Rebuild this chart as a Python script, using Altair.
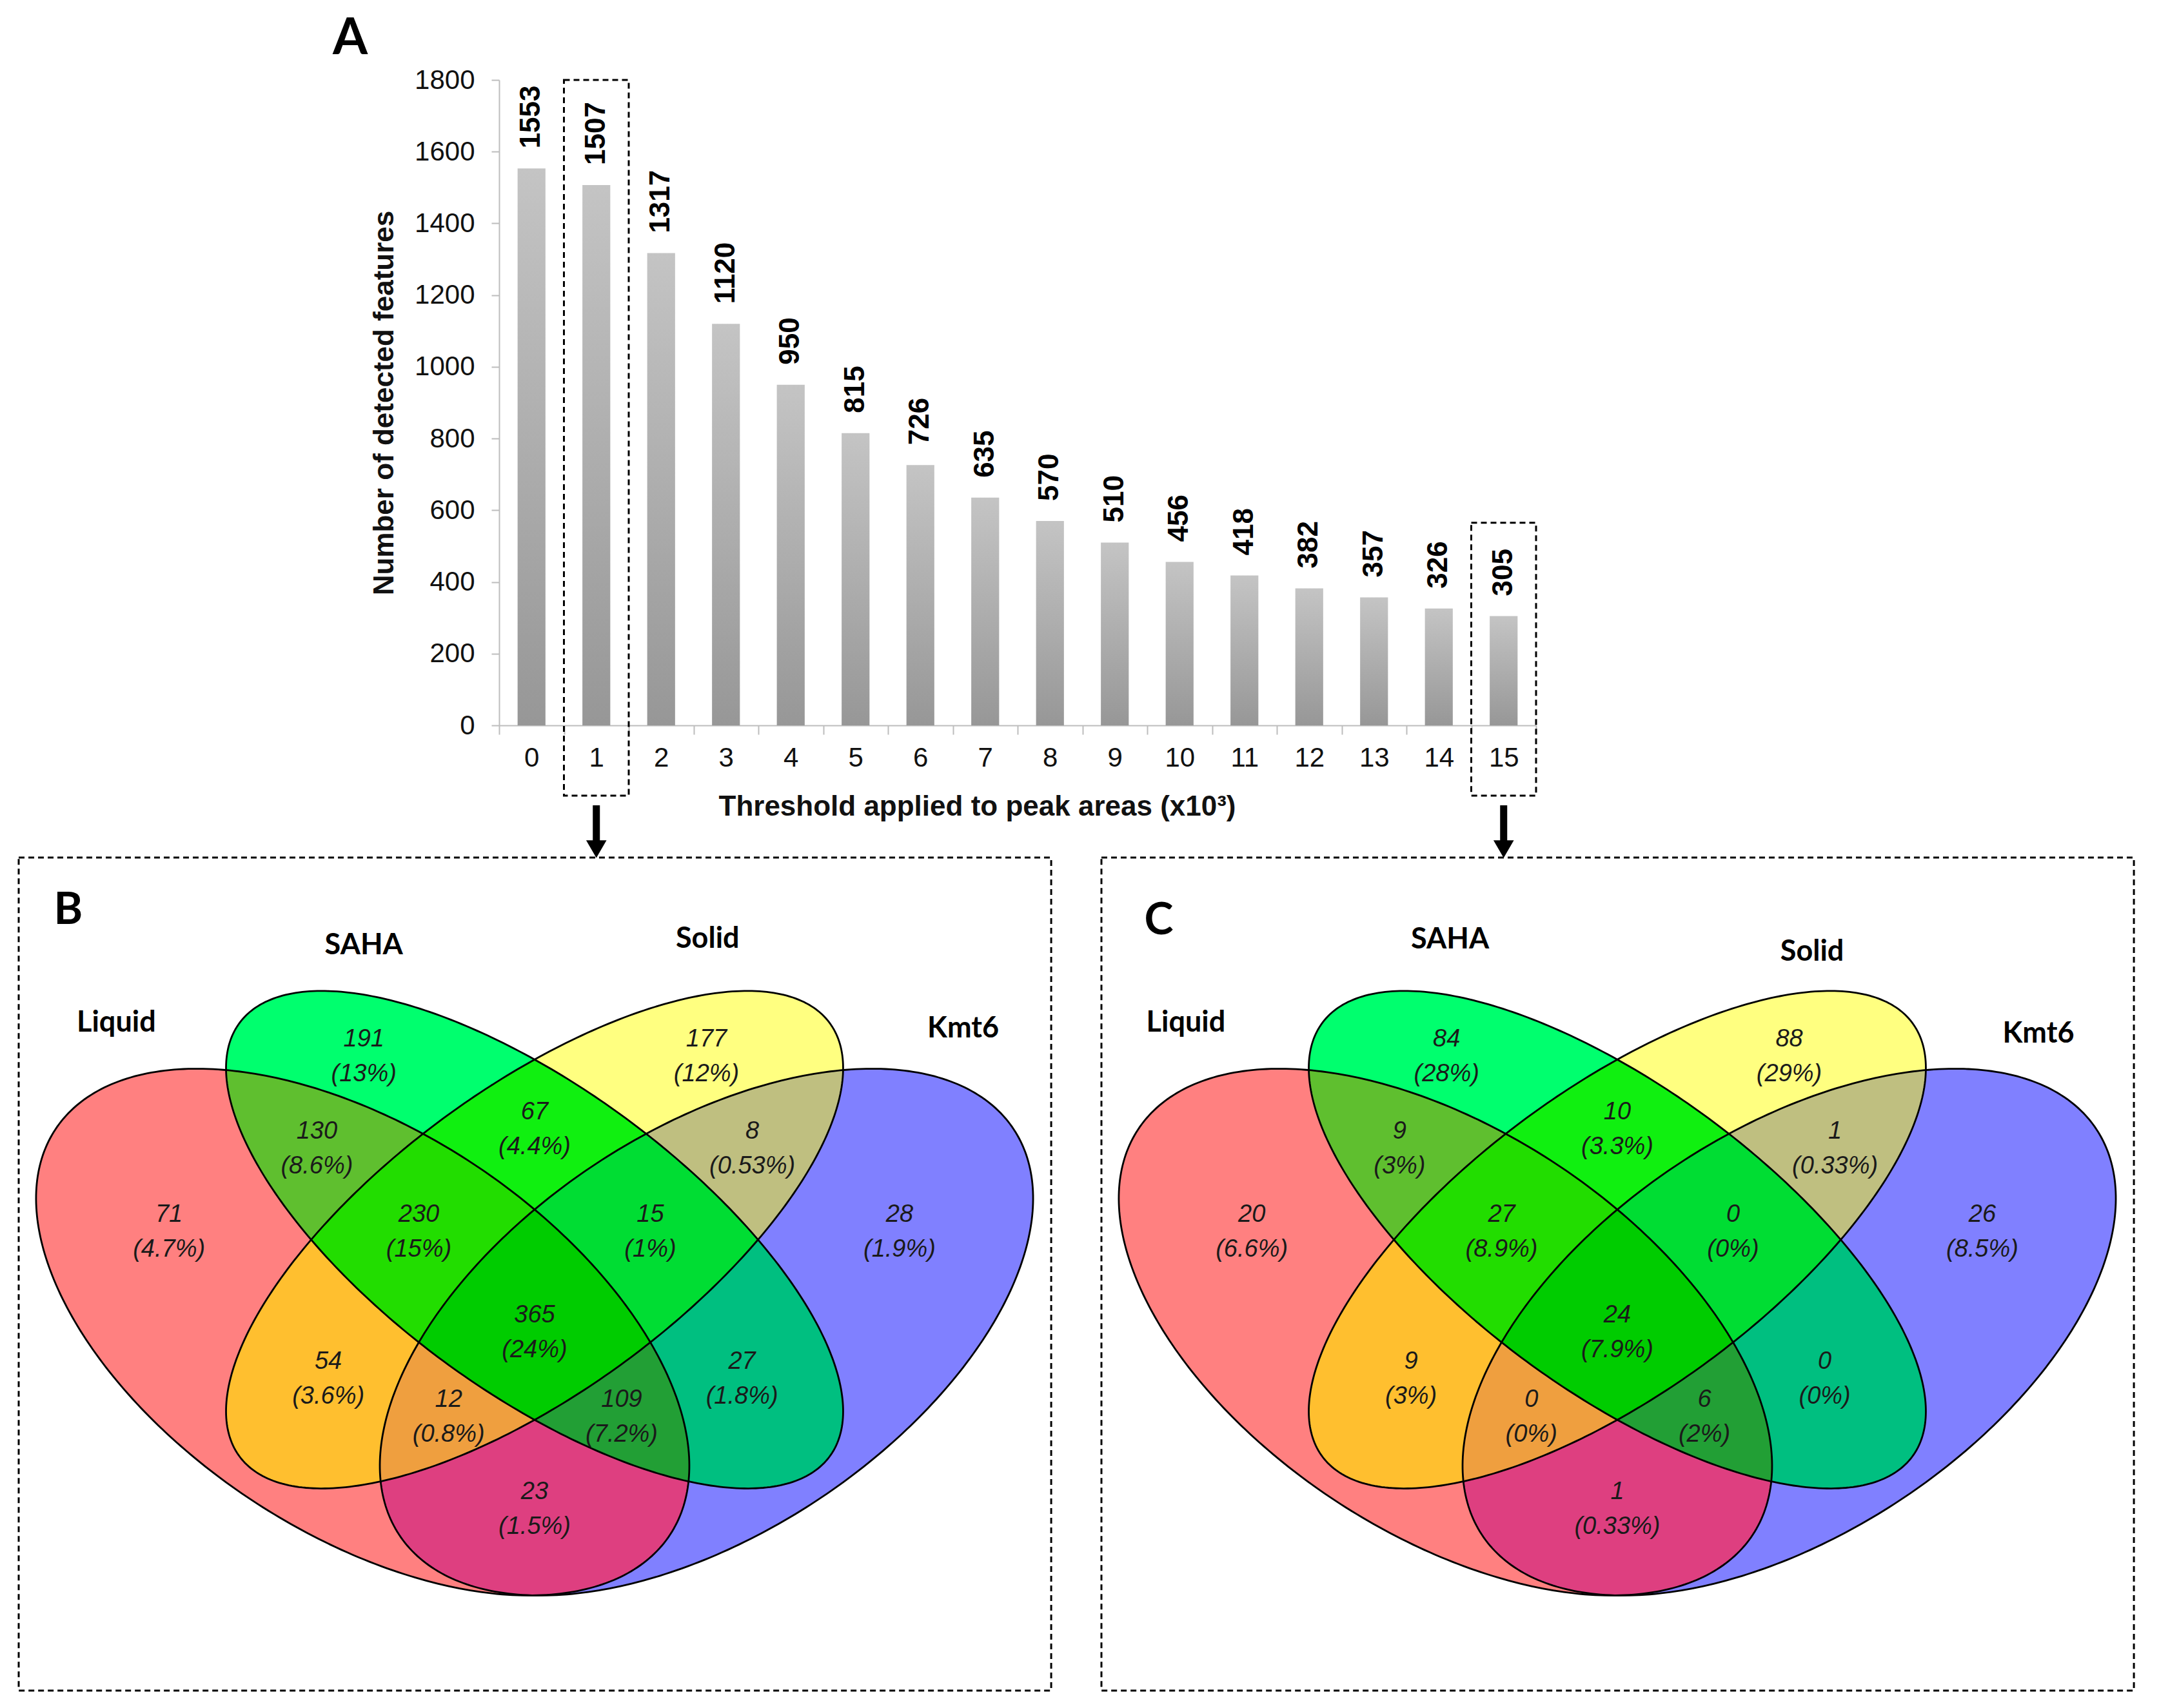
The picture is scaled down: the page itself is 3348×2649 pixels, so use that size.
import altair as alt
import pandas as pd
import numpy as np

# ---------------- Panel A data ----------------
thresholds = list(range(16))
features = [1553, 1507, 1317, 1120, 950, 815, 726, 635, 570, 510, 456, 418, 382, 357, 326, 305]
boxed = [1, 15]
box_top = [1800, 565]

# ---------------- Panels B / C data ----------------
set_names = ["Liquid", "SAHA", "Solid", "Kmt6"]
region_sets = [(1,), (2,), (0,), (3,), (0, 1), (1, 2), (2, 3), (0, 1, 2), (1, 2, 3),
               (0, 1, 2, 3), (0, 2), (1, 3), (0, 2, 3), (0, 1, 3), (0, 3)]
B_counts = [191, 177, 71, 28, 130, 67, 8, 230, 15, 365, 54, 27, 12, 109, 23]
B_pct = ["13%", "12%", "4.7%", "1.9%", "8.6%", "4.4%", "0.53%", "15%", "1%", "24%",
         "3.6%", "1.8%", "0.8%", "7.2%", "1.5%"]
C_counts = [84, 88, 20, 26, 9, 10, 1, 27, 0, 24, 9, 0, 0, 6, 1]
C_pct = ["28%", "29%", "6.6%", "8.5%", "3%", "3.3%", "0.33%", "8.9%", "0%", "7.9%",
         "3%", "0%", "0%", "2%", "0.33%"]
region_colors = ["#00FF6E", "#FFFF80", "#FF8080", "#8080FF", "#5FBF2F", "#10F010", "#BFBF80",
                 "#22DD00", "#00DD33", "#00CC00", "#FFBF2F", "#00BF80", "#EF9F3F", "#229F35",
                 "#DE3F80"]

# layout of the 4-ellipse Venn (unit coordinates)
ell_cx = [0.35, 0.50, 0.50, 0.65]
ell_cy = [0.47, 0.57, 0.57, 0.47]
ell_a = [0.35, 0.35, 0.35, 0.35]
ell_b = [0.20, 0.15, 0.15, 0.20]
ell_ang = [135, 135, 45, 45]
label_u = [0.351, 0.650, 0.181, 0.8185, 0.310, 0.5, 0.690, 0.399, 0.601, 0.5, 0.320, 0.681, 0.425, 0.576, 0.5]
label_v = [0.768, 0.768, 0.578, 0.578, 0.668, 0.689, 0.668, 0.578, 0.578, 0.469, 0.419, 0.419, 0.378, 0.378, 0.278]
name_u = {"B": [0.135, 0.351, 0.651, 0.874], "C": [0.1235, 0.354, 0.670, 0.8675]}
name_v = {"B": [0.805, 0.889, 0.896, 0.799], "C": [0.805, 0.895, 0.882, 0.793]}
panel_shift = {"B": 0.0, "C": 0.94485}
letter_pos = {"B": (0.0931, 0.926), "C": (0.0999, 0.9145)}

FONT = "Liberation Sans"
TFONT = "Lato"


def ellipse(i, n=360):
    t = np.linspace(0, 2 * np.pi, n, endpoint=False)
    th = np.radians(ell_ang[i])
    x = ell_cx[i] + ell_a[i] * np.cos(t) * np.cos(th) - ell_b[i] * np.sin(t) * np.sin(th)
    y = ell_cy[i] + ell_a[i] * np.cos(t) * np.sin(th) + ell_b[i] * np.sin(t) * np.cos(th)
    return list(zip(x, y))


def inside(p, a, b):
    return (b[0] - a[0]) * (p[1] - a[1]) - (b[1] - a[1]) * (p[0] - a[0]) >= 0


def inter(s, e, a, b):
    x1, y1 = s; x2, y2 = e; x3, y3 = a; x4, y4 = b
    den = (x1 - x2) * (y3 - y4) - (y1 - y2) * (x3 - x4)
    px = ((x1 * y2 - y1 * x2) * (x3 - x4) - (x1 - x2) * (x3 * y4 - y3 * x4)) / den
    py = ((x1 * y2 - y1 * x2) * (y3 - y4) - (y1 - y2) * (x3 * y4 - y3 * x4)) / den
    return (px, py)


def clip(subject, clipper):
    out = subject
    for k in range(len(clipper)):
        a, b = clipper[k - 1], clipper[k]
        inp, out = out, []
        if not inp:
            break
        s = inp[-1]
        for e in inp:
            if inside(e, a, b):
                if not inside(s, a, b):
                    out.append(inter(s, e, a, b))
                out.append(e)
            elif inside(s, a, b):
                out.append(inter(s, e, a, b))
            s = e
    return out


ells = [ellipse(i) for i in range(4)]
fill_rows, line_rows, lab_rows, name_rows, box_rows, let_rows = [], [], [], [], [], []
region_polys = []
for r, subset in enumerate(region_sets):
    poly = ells[subset[0]]
    for j in subset[1:]:
        poly = clip(poly, ells[j])
    region_polys.append(poly)

for panel, counts, pcts in [("B", B_counts, B_pct), ("C", C_counts, C_pct)]:
    sh = panel_shift[panel]
    for r, subset in enumerate(region_sets):
        for k, (x, y) in enumerate(region_polys[r]):
            fill_rows.append({"u": x + sh, "v": y, "key": f"{panel}{r}", "i": k,
                              "col": region_colors[r], "stage": len(subset)})
        lab_rows.append({"u": label_u[r] + sh, "v": label_v[r], "num": str(counts[r]),
                         "pct": f"({pcts[r]})"})
    for e in range(4):
        pts = ells[e] + [ells[e][0]]
        for k, (x, y) in enumerate(pts):
            line_rows.append({"u": x + sh, "v": y, "key": f"{panel}e{e}", "i": k})
        name_rows.append({"u": name_u[panel][e] + sh, "v": name_v[panel][e], "name": set_names[e]})
    box_rows.append({"u": 0.04981 + sh, "u2": 0.95081 + sh, "v": 0.0820, "v2": 0.9836})
    let_rows.append({"u": letter_pos[panel][0] + sh, "v": letter_pos[panel][1], "name": panel})

fill_df = pd.DataFrame(fill_rows)
line_df = pd.DataFrame(line_rows)
lab_df = pd.DataFrame(lab_rows)
name_df = pd.DataFrame(name_rows)
box_df = pd.DataFrame(box_rows)
let_df = pd.DataFrame(let_rows)

xs = alt.Scale(domain=[0.04981, 1.89617], nice=False, zero=False)
ys = alt.Scale(domain=[0.08200, 0.98360], nice=False, zero=False)
X = alt.X("u:Q", scale=xs, axis=None)
Y = alt.Y("v:Q", scale=ys, axis=None)

layers = []
for stg in [1, 2, 3, 4]:
    layers.append(
        alt.Chart(fill_df[fill_df.stage == stg]).mark_line(strokeWidth=0, strokeOpacity=0).encode(
            x=X, y=Y, detail="key:N", order="i:Q", fill=alt.Fill("col:N", scale=None)
        )
    )
layers.append(
    alt.Chart(line_df).mark_line(stroke="black", strokeWidth=2.8).encode(
        x=X, y=Y, detail="key:N", order="i:Q"
    )
)
layers.append(
    alt.Chart(lab_df).mark_text(font=FONT, fontStyle="italic", fontSize=38, color="#1a1a1a",
                                dy=-27, baseline="middle").encode(x=X, y=Y, text="num:N")
)
layers.append(
    alt.Chart(lab_df).mark_text(font=FONT, fontStyle="italic", fontSize=38, color="#1a1a1a",
                                dy=27, baseline="middle").encode(x=X, y=Y, text="pct:N")
)
layers.append(
    alt.Chart(name_df).mark_text(font=TFONT, fontWeight="bold", fontSize=45, color="black",
                                 baseline="middle").encode(x=X, y=Y, text="name:N")
)
layers.append(
    alt.Chart(let_df).mark_text(font=TFONT, fontWeight="bold", fontSize=68, color="black",
                                baseline="middle").encode(x=X, y=Y, text="name:N")
)
layers.append(
    alt.Chart(box_df).mark_rect(fill="white", fillOpacity=0, stroke="black", strokeWidth=3,
                                strokeDash=[9, 6]).encode(
        x=X, x2="u2:Q", y=Y, y2="v2:Q")
)
venn = alt.layer(*layers).properties(width=3281, height=1292)

# ---------------- Panel A chart ----------------
bar_df = pd.DataFrame({"t": thresholds, "n": features})
boxA = pd.DataFrame({"t": boxed, "n": box_top, "n2": [-196, -196]})
arrow = pd.DataFrame({"t": boxed, "n": [-223, -223], "n2": [-325, -325]})
head = pd.DataFrame({"t": boxed, "n": [-345, -345]})
letterA = pd.DataFrame({"s": ["A"]})

xa = alt.X("t:O", scale=alt.Scale(paddingInner=0, paddingOuter=0),
           axis=alt.Axis(title="Threshold applied to peak areas (x10³)", labelAngle=0,
                         tickBand="extent", tickSize=14, labelPadding=16,
                         domainColor="#bdbdbd", tickColor="#bdbdbd", domainWidth=2, tickWidth=2,
                         labelFont=FONT, labelFontSize=42, labelColor="#111",
                         titleFont=FONT, titleFontSize=44, titleFontWeight="bold", titleColor="#111",
                         titleX=741, titleY=126, titleBaseline="middle", titleAlign="center"))
ya = alt.Y("n:Q", scale=alt.Scale(domain=[0, 1800], nice=False, zero=False),
           axis=alt.Axis(title="Number of detected features", values=list(range(0, 1801, 200)),
                         format="d",
                         tickSize=12, labelPadding=26, titlePadding=24, grid=False,
                         domainColor="#bdbdbd", tickColor="#bdbdbd", domainWidth=2, tickWidth=2,
                         labelFont=FONT, labelFontSize=42, labelColor="#111",
                         titleFont=FONT, titleFontSize=44, titleFontWeight="bold", titleColor="#111"))

grad = alt.LinearGradient(gradient="linear",
                          stops=[alt.GradientStop(color="#c4c4c4", offset=0),
                                 alt.GradientStop(color="#979797", offset=1)],
                          x1=0, x2=0, y1=0, y2=1)
bars = alt.Chart(bar_df).mark_bar(width=alt.RelativeBandSize(0.43), color=grad).encode(x=xa, y=ya)
vals = alt.Chart(bar_df).mark_text(angle=270, align="left", baseline="middle", dx=31, font=FONT,
                                   fontWeight="bold", fontSize=44, color="black").encode(
    x=xa, y=ya, text="n:Q")
boxes = alt.Chart(boxA).mark_rect(fill="white", fillOpacity=0, stroke="black", strokeWidth=3,
                                  strokeDash=[9, 6]).encode(x=xa, y=ya, y2="n2:Q")
shafts = alt.Chart(arrow).mark_rule(strokeWidth=11, color="black").encode(x=xa, y=ya, y2="n2:Q")
heads = alt.Chart(head).mark_point(shape="triangle-down", filled=True, size=1000, color="black",
                                   opacity=1).encode(x=xa, y=ya)
aLabel = alt.Chart(letterA).mark_text(font=TFONT, fontWeight="bold", fontSize=78, color="black",
                                      align="center", baseline="top").encode(
    x=alt.value(-231), y=alt.value(-102), text="s:N")
barchart = alt.layer(bars, vals, boxes, shafts, heads, aLabel).properties(width=1608, height=1001)

spacer = alt.Chart(pd.DataFrame({"z": [0]})).mark_point(opacity=0).encode(
    x=alt.value(0), y=alt.value(0)).properties(width=745, height=1001)

top = alt.hconcat(spacer, barchart, spacing=0, bounds="flush")
chart = alt.vconcat(top, venn, spacing=1206, bounds="flush").properties(
    padding={"left": 18, "top": 14, "right": 5, "bottom": 5}
).configure_view(stroke=None)

chart.save("out.html", embed_options={"renderer": "svg", "actions": False})
